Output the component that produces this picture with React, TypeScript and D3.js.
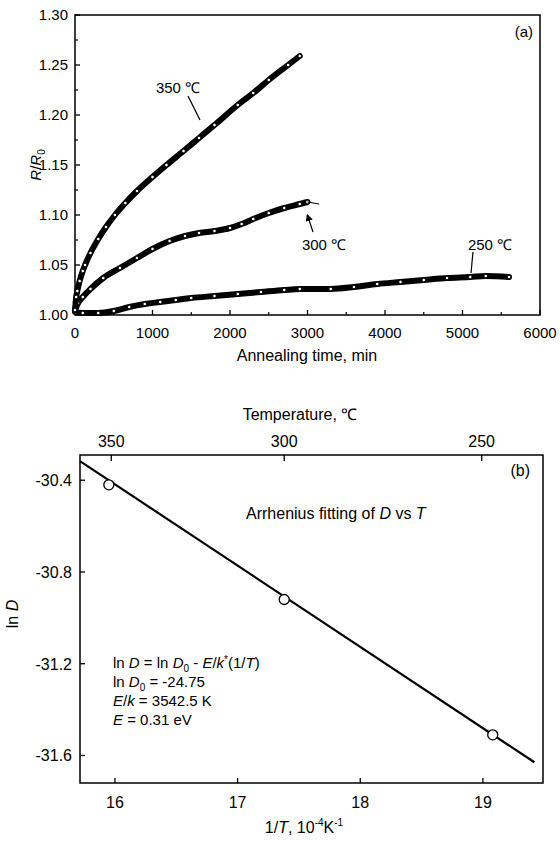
import React from 'react';
import * as d3 from 'd3';

const width = 560;
const height = 841;
const FONT = 'Liberation Sans, Arial, Helvetica, sans-serif';

// panel (a): annealing time (min) vs R/R0
const series350 = [
  [0, 1.005], [15, 1.018], [30, 1.024], [60, 1.034], [100, 1.044], [130, 1.05], [200, 1.062],
  [300, 1.076], [400, 1.088], [515, 1.1], [650, 1.112], [800, 1.124], [1000, 1.138], [1180, 1.15],
  [1400, 1.164], [1600, 1.177], [1800, 1.19], [2100, 1.21], [2300, 1.222], [2500, 1.235],
  [2750, 1.25], [2900, 1.259],
];
const series300 = [
  [0, 1.005], [40, 1.012], [100, 1.018], [200, 1.026], [365, 1.037], [580, 1.047], [800, 1.057],
  [1000, 1.066], [1220, 1.074], [1420, 1.079], [1600, 1.082], [1800, 1.084], [2000, 1.087],
  [2150, 1.091], [2300, 1.096], [2500, 1.102], [2700, 1.107], [2900, 1.111], [3000, 1.113],
];
const tail300 = [[3000, 1.113], [3150, 1.111]];
const series250 = [
  [0, 1.003], [100, 1.002], [300, 1.002], [500, 1.004], [700, 1.008], [900, 1.011], [1100, 1.013],
  [1300, 1.015], [1500, 1.017], [1800, 1.019], [2100, 1.021], [2400, 1.023], [2700, 1.025],
  [2900, 1.026], [3300, 1.026], [3600, 1.028], [3900, 1.031], [4200, 1.033], [4500, 1.035],
  [4800, 1.037], [5100, 1.038], [5300, 1.039], [5600, 1.038],
];
const timeTicks = [0, 1000, 2000, 3000, 4000, 5000, 6000];
const ratioTicks = [1.0, 1.05, 1.1, 1.15, 1.2, 1.25, 1.3];

// panel (b): Arrhenius fit
const invT = [15.95, 17.38, 19.08];
const lnD = [-30.42, -30.92, -31.51];
const lnD0 = -24.75;
const Ek = 3542.5; // K
const fitRange = [15.715, 19.42];
const invTTicks = [16, 17, 18, 19];
const lnDTicks = [-30.4, -30.8, -31.2, -31.6];
const tempLabels = ['350', '300', '250'];
const tempTickPos = [15.97, 17.38, 18.99];

export default function App() {
  const ax = d3.scaleLinear().domain([0, 6000]).range([75, 540]);
  const ay = d3.scaleLinear().domain([1.0, 1.3]).range([315, 15]);
  const bx = d3.scaleLinear().domain([15.715, 19.49]).range([80, 543]);
  const by = d3.scaleLinear().domain([-30.29, -31.72]).range([455, 783]);

  const lineA = d3.line().x(d => ax(d[0])).y(d => ay(d[1])).curve(d3.curveMonotoneX);
  const fit = d3.line().x(d => bx(d)).y(d => by(lnD0 - Ek * d * 1e-4));

  // dense open-circle data drawn as a thick black band with white specks
  const band = (data, key) => (
    <g key={key}>
      <path d={lineA(data)} fill="none" stroke="#000" strokeWidth={6} strokeLinecap="round" strokeLinejoin="round" />
      {data.map((d, i) => (
        <circle key={i} cx={ax(d[0])} cy={ay(d[1])} r={1.8} fill="#fff" stroke="#000" strokeWidth={0.9} />
      ))}
    </g>
  );

  const minorTime = d3.range(500, 6000, 1000);
  const minorRatio = d3.range(1.025, 1.3, 0.05);

  return (
    <div style={{ position: 'absolute', left: 0, top: 0 }}>
      <svg width={width} height={height} fontFamily={FONT} style={{ display: 'block', background: '#fff' }}>
        <defs>
          <marker id="arr" viewBox="0 0 6 6" refX="5" refY="3" markerWidth="6" markerHeight="6" orient="auto">
            <path d="M0,0 L6,3 L0,6 z" fill="#000" />
          </marker>
        </defs>

        {/* ---------- panel (a) ---------- */}
        <rect x={75} y={15} width={465} height={300} fill="none" stroke="#000" strokeWidth={1.5} />
        {ratioTicks.map(t => (
          <g key={t}>
            <line x1={ax(0)} x2={ax(0) + 5} y1={ay(t)} y2={ay(t)} stroke="#000" strokeWidth={1.3} />
            <text x={68} y={ay(t) + 5} textAnchor="end" fontSize={15}>{t.toFixed(2)}</text>
          </g>
        ))}
        {minorRatio.map(t => (
          <line key={t} x1={ax(0)} x2={ax(0) + 3} y1={ay(t)} y2={ay(t)} stroke="#000" strokeWidth={1.2} />
        ))}
        {timeTicks.map(t => (
          <g key={t}>
            <line x1={ax(t)} x2={ax(t)} y1={ay(1)} y2={ay(1) - 5} stroke="#000" strokeWidth={1.3} />
            <text x={ax(t)} y={338} textAnchor="middle" fontSize={15}>{t}</text>
          </g>
        ))}
        {minorTime.map(t => (
          <line key={t} x1={ax(t)} x2={ax(t)} y1={ay(1)} y2={ay(1) - 3} stroke="#000" strokeWidth={1.2} />
        ))}
        <text x={307} y={361} textAnchor="middle" fontSize={16}>Annealing time, min</text>
        <text transform="translate(41,165) rotate(-90)" textAnchor="middle" fontSize={15}>
          <tspan fontStyle="italic">R</tspan>/<tspan fontStyle="italic">R</tspan>
          <tspan fontSize={10} dy={4}>0</tspan>
        </text>
        <text x={533} y={37} textAnchor="end" fontSize={15}>(a)</text>

        {band(series250, 's250')}
        {band(series300, 's300')}
        <path d={lineA(tail300)} fill="none" stroke="#000" strokeWidth={1} />
        {band(series350, 's350')}

        <text x={ax(1329)} y={ay(1.228) + 6} textAnchor="middle" fontSize={15}>350 ℃</text>
        <line x1={ax(1458)} y1={ay(1.219)} x2={ax(1613)} y2={ay(1.195)} stroke="#000" strokeWidth={1.2} />
        <text x={ax(3213)} y={ay(1.071) + 6} textAnchor="middle" fontSize={15}>300 ℃</text>
        <line x1={ax(3071)} y1={ay(1.083)} x2={ax(2998)} y2={ay(1.1)} stroke="#000" strokeWidth={1.2} markerEnd="url(#arr)" />
        <text x={ax(5355)} y={ay(1.071) + 6} textAnchor="middle" fontSize={15}>250 ℃</text>
        <line x1={ax(5135)} y1={ay(1.063)} x2={ax(5110)} y2={ay(1.042)} stroke="#000" strokeWidth={1.2} />

        {/* ---------- panel (b) ---------- */}
        <rect x={80} y={455} width={463} height={328} fill="none" stroke="#000" strokeWidth={1.5} />
        {lnDTicks.map(t => (
          <g key={t}>
            <line x1={80} x2={85} y1={by(t)} y2={by(t)} stroke="#000" strokeWidth={1.3} />
            <text x={72} y={by(t) + 6} textAnchor="end" fontSize={16}>{t.toFixed(1)}</text>
          </g>
        ))}
        {invTTicks.map(t => (
          <g key={t}>
            <line x1={bx(t)} x2={bx(t)} y1={783} y2={778} stroke="#000" strokeWidth={1.3} />
            <text x={bx(t)} y={808} textAnchor="middle" fontSize={16}>{t}</text>
          </g>
        ))}
        {tempTickPos.map((t, i) => (
          <g key={t}>
            <line x1={bx(t)} x2={bx(t)} y1={455} y2={461} stroke="#000" strokeWidth={1.3} />
            <text x={bx(t)} y={447} textAnchor="middle" fontSize={16}>{tempLabels[i]}</text>
          </g>
        ))}
        <text x={300} y={420} textAnchor="middle" fontSize={16}>Temperature,  ℃</text>
        <text x={304} y={833} textAnchor="middle" fontSize={16}>
          1/<tspan fontStyle="italic">T</tspan>, 10<tspan fontSize={10} dy={-7}>-4</tspan>
          <tspan dy={7}>K</tspan><tspan fontSize={10} dy={-7}>-1</tspan>
        </text>
        <text transform="translate(18,614) rotate(-90)" textAnchor="middle" fontSize={16}>
          ln <tspan fontStyle="italic">D</tspan>
        </text>
        <text x={530} y={476} textAnchor="end" fontSize={16}>(b)</text>
        <text x={246} y={519} fontSize={16}>
          Arrhenius fitting of <tspan fontStyle="italic">D</tspan> vs <tspan fontStyle="italic">T</tspan>
        </text>

        <path d={fit(fitRange)} fill="none" stroke="#000" strokeWidth={2.2} />
        {invT.map((d, i) => (
          <circle key={i} cx={bx(d)} cy={by(lnD[i])} r={5} fill="#fff" stroke="#000" strokeWidth={1.3} />
        ))}

        <g fontSize={15}>
          <text x={113} y={668}>
            ln <tspan fontStyle="italic">D</tspan> = ln <tspan fontStyle="italic">D</tspan>
            <tspan fontSize={10} dy={4}>0</tspan><tspan dy={-4}> - </tspan>
            <tspan fontStyle="italic">E</tspan>/<tspan fontStyle="italic">k</tspan>
            <tspan fontSize={10} dy={-5}>*</tspan><tspan dy={5}>(1/</tspan>
            <tspan fontStyle="italic">T</tspan>)
          </text>
          <text x={113} y={687}>
            ln <tspan fontStyle="italic">D</tspan><tspan fontSize={10} dy={4}>0</tspan>
            <tspan dy={-4}> = {lnD0.toFixed(2)}</tspan>
          </text>
          <text x={113} y={706}>
            <tspan fontStyle="italic">E</tspan>/<tspan fontStyle="italic">k</tspan> = {Ek.toFixed(1)} K
          </text>
          <text x={113} y={725}>
            <tspan fontStyle="italic">E</tspan> = 0.31 eV
          </text>
        </g>
      </svg>
    </div>
  );
}
